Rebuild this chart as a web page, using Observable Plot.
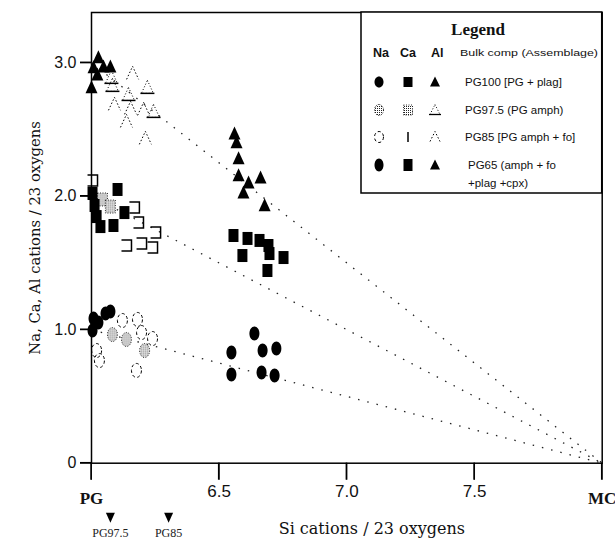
<!DOCTYPE html>
<html><head><meta charset="utf-8">
<script src="https://cdn.jsdelivr.net/npm/d3@7"></script>
<script src="https://cdn.jsdelivr.net/npm/@observablehq/plot@0.6"></script>
<style>body{margin:0;background:#fff} svg{overflow:visible}</style>
</head><body>
<script>
// ---- Endmembers and axis ticks ----
const endmembers = [
  {name: "PG", Si: 6.0, Na: 1, Ca: 2, Al: 3},
  {name: "MC", Si: 8.0, Na: 0, Ca: 0, Al: 0}
];
const xTicks = [6.0, 6.5, 7.0, 7.5, 8.0];
const yTicks = [0, 1, 2, 3];
const bulkMarkers = [{label: "PG97.5", Si: 6.074}, {label: "PG85", Si: 6.302}];

// ---- Analyses: [Si, cations] ----
const pg100Al = [[6.027,3.040],[6.008,2.965],[6.047,2.972],[6.074,2.972],[6.023,2.912],[6.000,2.815]];
const pg975Al = [[6.078,2.890],[6.082,2.830],[6.145,2.762],[6.219,2.815],[6.243,2.635]];
const pg85Al  = [[6.161,2.920],[6.090,2.688],[6.153,2.658],[6.204,2.650],[6.137,2.560],[6.211,2.433]];
const pg65Al  = [[6.560,2.470],[6.568,2.403],[6.576,2.283],[6.576,2.156],[6.615,2.103],[6.662,2.140],[6.595,2.028],[6.678,1.931]];

const pg100Ca = [[6.004,2.021],[6.012,1.931],[6.020,1.848],[6.035,1.773],[6.086,1.781],[6.102,2.051],[6.129,1.878]];
const pg975Ca = [[6.043,1.976],[6.074,1.923]];
const pg85Ca  = [[6.004,2.118],[6.168,1.916],[6.184,1.803],[6.196,1.646],[6.239,1.616],[6.137,1.631],[6.251,1.728]];
const pg65Ca  = [[6.556,1.706],[6.611,1.684],[6.658,1.669],[6.693,1.631],[6.697,1.571],[6.591,1.556],[6.752,1.541],[6.689,1.444]];

const pg100Na = [[6.008,1.084],[6.027,1.054],[6.055,1.122],[6.004,0.994],[6.074,1.137]];
const pg975Na = [[6.082,0.964],[6.137,0.927],[6.208,0.844]];
const pg85Na  = [[6.121,1.069],[6.180,1.077],[6.196,0.979],[6.020,0.844],[6.176,0.695],[6.031,0.769],[6.239,0.934]];
const pg65Na  = [[6.638,0.972],[6.548,0.829],[6.670,0.844],[6.724,0.859],[6.548,0.665],[6.666,0.680],[6.717,0.657]];

// ---- symbol shapes ----
function ellipseSym(rx, ry){ return {draw(c){ const k=0.5523;
  c.moveTo(rx,0); c.bezierCurveTo(rx,ry*k,rx*k,ry,0,ry); c.bezierCurveTo(-rx*k,ry,-rx,ry*k,-rx,0);
  c.bezierCurveTo(-rx,-ry*k,-rx*k,-ry,0,-ry); c.bezierCurveTo(rx*k,-ry,rx,-ry*k,rx,0); c.closePath(); }}; }
function rectSym(w,h){ return {draw(c){ c.moveTo(-w/2,-h/2); c.lineTo(w/2,-h/2); c.lineTo(w/2,h/2); c.lineTo(-w/2,h/2); c.closePath(); }}; }
function bracketSym(w,h){ return {draw(c){ c.moveTo(-w/2,-h/2); c.lineTo(w/2,-h/2); c.lineTo(w/2,h/2); c.lineTo(-w/2,h/2); }}; }
function triSym(w,h){ return {draw(c){ c.moveTo(0,-h*0.55); c.lineTo(w/2,h*0.45); c.lineTo(-w/2,h*0.45); c.closePath(); }}; }
function openTriSym(w,h){ return {draw(c){ c.moveTo(-w/2,h*0.45); c.lineTo(0,-h*0.55); c.lineTo(w/2,h*0.45); }}; }
function triDownSym(w,h){ return {draw(c){ c.moveTo(0,h*0.55); c.lineTo(w/2,-h*0.45); c.lineTo(-w/2,-h*0.45); c.closePath(); }}; }
function baseSym(w,h){ return {draw(c){ c.moveTo(-w/2-1,h*0.45); c.lineTo(w/2+1,h*0.45); }}; }

const S = {
  ell: ellipseSym(5,7), rect: rectSym(10,13), tri: triSym(12,13), openTri: openTriSym(12,13),
  bracket: bracketSym(10,11), base: baseSym(12,13), down: triDownSym(9,10)
};
const filled = {fill: "black", stroke: "none"};
const stip = {fill: "url(#stip)", stroke: "black", strokeWidth: 0.8, strokeDasharray: "1,1.5"};

const pt = (data, o) => Plot.dot(data, {x: d => d[0], y: d => d[1], r: 5, ...o});

const links = ["Na","Ca","Al"].map(el => ({el, x1: endmembers[0].Si, y1: endmembers[0][el], x2: endmembers[1].Si, y2: endmembers[1][el]}));

const txt = {lineAnchor: "middle", textAnchor: "middle"};
const X_TICK = 17, Y_TICK = 11;

const plot = Plot.plot({
  width: 615, height: 542,
  marginLeft: 91, marginRight: 13.3, marginTop: 12, marginBottom: 79.3,
  style: {fontFamily: "Liberation Sans, Arial, sans-serif", fontSize: "16px", color: "#111", background: "white", overflow: "visible"},
  x: {domain: [6, 8], ticks: xTicks,
      tickFormat: d => (d === 6 || d === 8) ? "" : d.toFixed(1), tickSize: X_TICK, tickPadding: 5, label: null},
  y: {domain: [0, 3.377], ticks: yTicks,
      tickFormat: d => d === 0 ? "0" : d.toFixed(1), tickSize: Y_TICK, tickPadding: 4, label: null},
  marks: [
    Plot.frame({stroke: "black", strokeWidth: 1.5}),
    Plot.link(links, {x1: "x1", y1: "y1", x2: "x2", y2: "y2", stroke: "#222", strokeWidth: 1.3, strokeDasharray: "1.5,8"}),
    // PG85 (open, dashed)
    pt(pg85Al, {symbol: S.openTri, fill: "none", stroke: "black", strokeWidth: 1, strokeDasharray: "1.5,2"}),
    pt(pg85Ca, {symbol: S.bracket, fill: "none", stroke: "black", strokeWidth: 1.5}),
    pt(pg85Na, {symbol: S.ell, fill: "none", stroke: "black", strokeWidth: 1, strokeDasharray: "3,2.5"}),
    // PG97.5 (stippled)
    pt(pg975Al, {symbol: S.tri, fill: "none", stroke: "black", strokeWidth: 1, strokeDasharray: "1,2"}),
    pt(pg975Al, {symbol: S.base, fill: "none", stroke: "black", strokeWidth: 1.5}),
    pt(pg975Ca, {symbol: S.rect, ...stip}),
    pt(pg975Na, {symbol: S.ell, ...stip}),
    // PG100 (filled)
    pt(pg100Al, {symbol: S.tri, ...filled}),
    pt(pg100Ca, {symbol: S.rect, ...filled}),
    pt(pg100Na, {symbol: S.ell, ...filled}),
    // PG65 (filled)
    pt(pg65Al, {symbol: S.tri, ...filled}),
    pt(pg65Ca, {symbol: S.rect, ...filled}),
    pt(pg65Na, {symbol: S.ell, ...filled}),
    // endmember labels
    Plot.text(endmembers, {x: "Si", frameAnchor: "bottom", dy: 35, text: "name", ...txt, fontFamily: "Liberation Serif", fontWeight: "bold", fontSize: 17, fill: "#111"}),
    // bulk composition markers
    Plot.dot(bulkMarkers, {x: "Si", frameAnchor: "bottom", dy: 54, r: 5, symbol: S.down, fill: "black", stroke: "none"}),
    Plot.text(bulkMarkers, {x: "Si", frameAnchor: "bottom", dy: 70, text: "label", ...txt, fontFamily: "Liberation Serif", fontSize: 12, fill: "#222"}),
    // axis titles
    Plot.text(["Si cations / 23 oxygens"], {frameAnchor: "bottom", dx: 25, dy: 66, text: d => d, ...txt, fontFamily: "DejaVu Serif", fontSize: 16, fill: "#111"}),
    Plot.text(["Na, Ca, Al cations / 23 oxygens"], {frameAnchor: "left", dx: -56, rotate: -90, text: d => d, ...txt, fontFamily: "DejaVu Serif", fontSize: 14.8, fill: "#111"})
  ]
});
document.body.appendChild(plot);

const svg = d3.select(plot.tagName.toLowerCase() === "svg" ? plot : plot.querySelector("svg"));
// stipple pattern
const defs = svg.insert("defs", ":first-child");
const pat = defs.append("pattern").attr("id", "stip").attr("width", 2).attr("height", 2).attr("patternUnits", "userSpaceOnUse");
pat.append("rect").attr("width", 2).attr("height", 2).attr("fill", "white");
pat.append("rect").attr("width", 1).attr("height", 1).attr("fill", "#222");

svg.selectAll('g[aria-label^="x-axis"] text').attr("font-size", 17);

// reinforce the tick marks, positioned with Plot's own scales
const xs = plot.scale("x"), ys = plot.scale("y");
const y0 = ys.apply(0), x0 = xs.apply(6);
const tk = svg.append("g").attr("stroke", "black").attr("stroke-width", 1.5);
xTicks.forEach(t => tk.append("line").attr("x1", xs.apply(t)).attr("x2", xs.apply(t)).attr("y1", y0).attr("y2", y0 + X_TICK));
yTicks.forEach(t => tk.append("line").attr("x1", x0 - Y_TICK).attr("x2", x0).attr("y1", ys.apply(t)).attr("y2", ys.apply(t)));

// ---- Legend (drawn in a box in the top-right corner) ----
const legendRows = [
  {label: ["PG100 [PG + plag]"], style: "filled"},
  {label: ["PG97.5 (PG amph)"], style: "stip"},
  {label: ["PG85 [PG amph + fo]"], style: "open"},
  {label: ["PG65 (amph + fo", "+plag +cpx)"], style: "filled2"}
];
const lg = svg.append("g").attr("class", "legend").attr("text-anchor", "start");
lg.append("rect").attr("x", 361).attr("y", 12).attr("width", 240.7).attr("height", 181)
  .attr("fill", "white").attr("stroke", "black").attr("stroke-width", 1.5);
lg.append("text").attr("x", 478).attr("y", 35).attr("text-anchor", "middle")
  .attr("font-family", "Liberation Serif").attr("font-weight", "bold").attr("font-size", 17).text("Legend");
[["Na", 373], ["Ca", 400], ["Al", 431]].forEach(([t, x]) =>
  lg.append("text").attr("x", x).attr("y", 57).attr("font-family", "Liberation Sans").attr("font-weight", "bold").attr("font-size", 12.5).text(t));
lg.append("text").attr("x", 460).attr("y", 56).attr("font-family", "Liberation Sans").attr("font-size", 9.5)
  .attr("textLength", 138).attr("lengthAdjust", "spacingAndGlyphs").text("Bulk comp (Assemblage)");
const rowY = [82, 110, 137, 165];
const sym = s => d3.symbol(s)();
legendRows.forEach((r, i) => {
  const y = rowY[i];
  const g = lg.append("g");
  const put = (shape, x, attrs) => { const p = g.append("path").attr("d", sym(shape)).attr("transform", `translate(${x},${y})`); Object.entries(attrs).forEach(([k, v]) => p.attr(k, v)); return p; };
  if (r.style === "filled" || r.style === "filled2") {
    const big = r.style === "filled2";
    put(big ? ellipseSym(4.5, 6.5) : ellipseSym(4.5, 5.5), 379, {fill: "black"});
    put(big ? rectSym(9, 12) : rectSym(9, 10), 408, {fill: "black"});
    put(triSym(10, 10), 435, {fill: "black"});
  } else if (r.style === "stip") {
    put(ellipseSym(4.5, 5.5), 379, {fill: "url(#stip)", stroke: "black", "stroke-width": 0.8, "stroke-dasharray": "1,1.5"});
    put(rectSym(9, 10), 408, {fill: "url(#stip)", stroke: "black", "stroke-width": 0.8, "stroke-dasharray": "1,1.5"});
    put(triSym(10, 10), 435, {fill: "none", stroke: "black", "stroke-width": 1, "stroke-dasharray": "1,2"});
    put(baseSym(10, 10), 435, {fill: "none", stroke: "black", "stroke-width": 1.3});
  } else {
    put(ellipseSym(4.5, 5.5), 379, {fill: "none", stroke: "black", "stroke-width": 1, "stroke-dasharray": "3,2.5"});
    g.append("line").attr("x1", 408).attr("x2", 408).attr("y1", y - 5).attr("y2", y + 5).attr("stroke", "black").attr("stroke-width", 1.5);
    put(openTriSym(10, 10), 435, {fill: "none", stroke: "black", "stroke-width": 1, "stroke-dasharray": "1.5,2"});
  }
  r.label.forEach((t, j) => g.append("text").attr("x", i === 3 ? 468 : 465).attr("y", y + 4 + j * 18)
    .attr("font-family", "Liberation Sans").attr("font-size", 11.5).text(t));
});
</script>
</body></html>
